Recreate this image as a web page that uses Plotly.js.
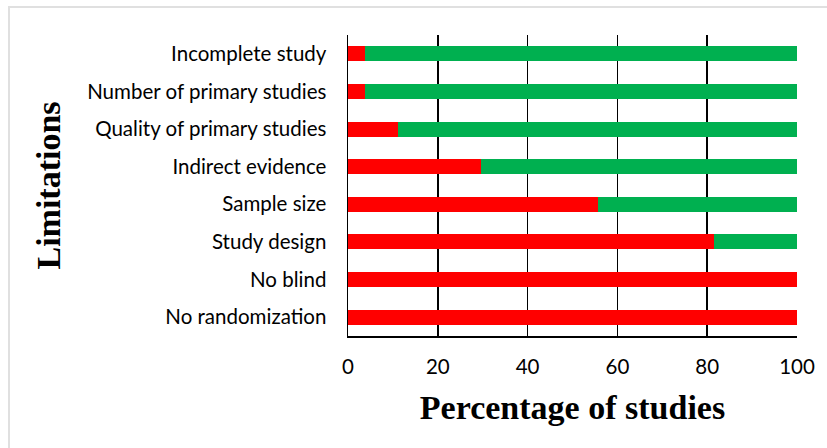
<!DOCTYPE html>
<html>
<head>
<meta charset="utf-8">
<script src="https://cdn.plot.ly/plotly-3.0.1.min.js"></script>
<style>html,body{margin:0;padding:0;background:#fff;}#chart{width:827px;height:448px;}</style>
</head>
<body>
<div id="chart"></div>
<script>
var categories = ["Incomplete study", "Number of primary studies", "Quality of primary studies", "Indirect evidence", "Sample size", "Study design", "No blind", "No randomization"];
var redValues = [3.7, 3.7, 11.1, 29.6, 55.6, 81.5, 100, 100];
var greenValues = [96.3, 96.3, 88.9, 70.4, 44.4, 18.5, 0, 0];
var xTicks = [0, 20, 40, 60, 80, 100];

var tickFont = {family: "Lato, 'Noto Sans', sans-serif", size: 20.5, color: "#000"};
var titleFont = {family: "'Liberation Serif', 'Times New Roman', serif", size: 34, color: "#000", weight: "bold"};

var data = [
  {type: "bar", orientation: "h", y: categories, x: redValues, name: "Yes",
   marker: {color: "#FF0000", line: {width: 0}}, width: 0.4, hoverinfo: "x+y"},
  {type: "bar", orientation: "h", y: categories, x: greenValues, name: "No",
   marker: {color: "#00B050", line: {width: 0}}, width: 0.4, hoverinfo: "x+y"}
];

var layout = {
  width: 827, height: 448,
  margin: {l: 348, r: 30, t: 35, b: 112},
  barmode: "stack",
  showlegend: false,
  paper_bgcolor: "#fff", plot_bgcolor: "#fff",
  xaxis: {
    range: [0, 100], tickvals: xTicks, ticktext: xTicks.map(String),
    showgrid: true, gridcolor: "#000", gridwidth: 1.5,
    showline: true, linecolor: "#000", linewidth: 1.5,
    zeroline: false, ticks: "", tickfont: tickFont, ticklabelstandoff: 12,
    title: {text: "Percentage of studies", font: titleFont, standoff: 18}
  },
  yaxis: {
    categoryorder: "array", categoryarray: categories.slice().reverse(),
    range: [-0.5, 7.5], autorange: false,
    showgrid: false, showline: true, linecolor: "#000", linewidth: 1.5,
    zeroline: false, ticks: "", tickfont: tickFont, ticklabelstandoff: 16,
    title: {text: "Limitations", font: titleFont, standoff: 16}
  },
  shapes: [{type: "rect", xref: "paper", yref: "paper",
    x0: (9 - 348) / 449, x1: (840 - 348) / 449, y0: (336 - 460) / 301, y1: (336 - 7) / 301,
    line: {color: "#e0e0e0", width: 2}, fillcolor: "rgba(0,0,0,0)", layer: "below"}]
};

Plotly.newPlot("chart", data, layout, {displayModeBar: false, staticPlot: true});
</script>
</body>
</html>
